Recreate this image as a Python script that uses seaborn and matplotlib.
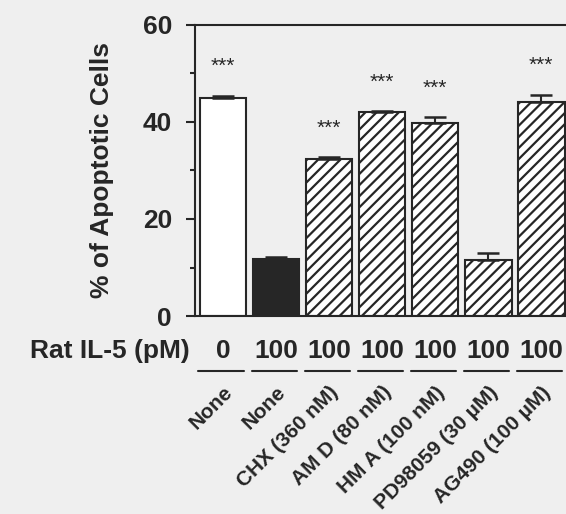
import numpy as np
import pandas as pd
import seaborn as sns
from matplotlib import pyplot as plt, transforms

# values
treatments = ['None', 'None', 'CHX (360 nM)', 'AM D (80 nM)', 'HM A (100 nM)',
              'PD98059 (30 µM)', 'AG490 (100 µM)']
il5_pm = ['0', '100', '100', '100', '100', '100', '100']
apoptotic = [45.0, 11.8, 32.3, 42.0, 39.8, 11.5, 44.2]
sem = [0.4, 0.3, 0.4, 0.2, 1.2, 1.4, 1.4]
signif = ['***', '', '***', '***', '***', '', '***']

ink = '#262626'
bg = '#efefef'

sns.set_style('ticks')
plt.rcParams['font.family'] = ['Liberation Sans', 'DejaVu Sans']
plt.rcParams['font.weight'] = 'bold'
plt.rcParams['axes.labelweight'] = 'bold'
plt.rcParams['hatch.linewidth'] = 1.6
plt.rcParams['hatch.color'] = ink

df = pd.DataFrame({'pos': np.arange(len(apoptotic)), 'val': apoptotic})

fig = plt.figure(figsize=(5.66, 5.14), dpi=100, facecolor=bg)
ax = fig.add_axes([0.3445, 0.3852, 0.668, 0.5662])
ax.set_facecolor(bg)

sns.barplot(data=df, x='pos', y='val', color='white', edgecolor=ink,
            linewidth=1.5, width=0.88, errorbar=None, saturation=1, ax=ax)
for i, p in enumerate(ax.patches):
    if i == 1:
        p.set_facecolor(ink)
    else:
        p.set_facecolor('white')
    if i >= 2:
        p.set_hatch('///')

x = np.arange(len(apoptotic))
ax.errorbar(x, apoptotic, yerr=[np.zeros(len(sem)), sem], fmt='none',
            ecolor=ink, elinewidth=1.5, capsize=8, capthick=1.8, zorder=3)

for xi, v, e, s in zip(x, apoptotic, sem, signif):
    if s:
        ax.text(xi, v + e + 6.0, s, ha='center', va='center', fontsize=15,
                fontweight='normal', color=ink)

ax.set_xlim(-0.526, 6.6)
ax.set_ylim(0, 60)
ax.set_yticks([0, 20, 40, 60])
ax.set_yticks([10, 30, 50], minor=True)
ax.tick_params(axis='y', which='major', length=6.5, width=1.5, pad=10,
               labelsize=19, colors=ink)
ax.tick_params(axis='y', which='minor', length=3.5, width=1.5, colors=ink)
for sp in ['left', 'top', 'bottom']:
    ax.spines[sp].set_linewidth(1.5)
    ax.spines[sp].set_color(ink)
ax.spines['right'].set_visible(False)

ax.set_ylabel('% of Apoptotic Cells', fontsize=19, fontweight='bold',
              color=ink)
ax.yaxis.set_label_coords(-0.214, 0.5)

# treatment labels, rotated
ax.set_xticks(x)
ax.set_xticklabels(treatments, rotation=45, ha='right', va='top',
                   rotation_mode='anchor', fontsize=15, fontweight='bold',
                   color=ink)
ax.tick_params(axis='x', length=0, pad=48)
ax.set_xlabel('')

# IL-5 concentration row with underlines
trans = transforms.blended_transform_factory(ax.transData, ax.transAxes)
ax.text(-0.62, -0.12, 'Rat IL-5 (pM)', transform=trans, ha='right',
        va='center', fontsize=19, fontweight='bold', color=ink)
for xi, c in zip(x, il5_pm):
    ax.text(xi, -0.12, c, transform=trans, ha='center', va='center',
            fontsize=19, fontweight='bold', color=ink)
    ax.plot([xi - 0.46, xi + 0.40], [-0.19, -0.19], transform=trans,
            color=ink, lw=1.5, clip_on=False)

fig.savefig('out.png', dpi=100, facecolor=bg)
